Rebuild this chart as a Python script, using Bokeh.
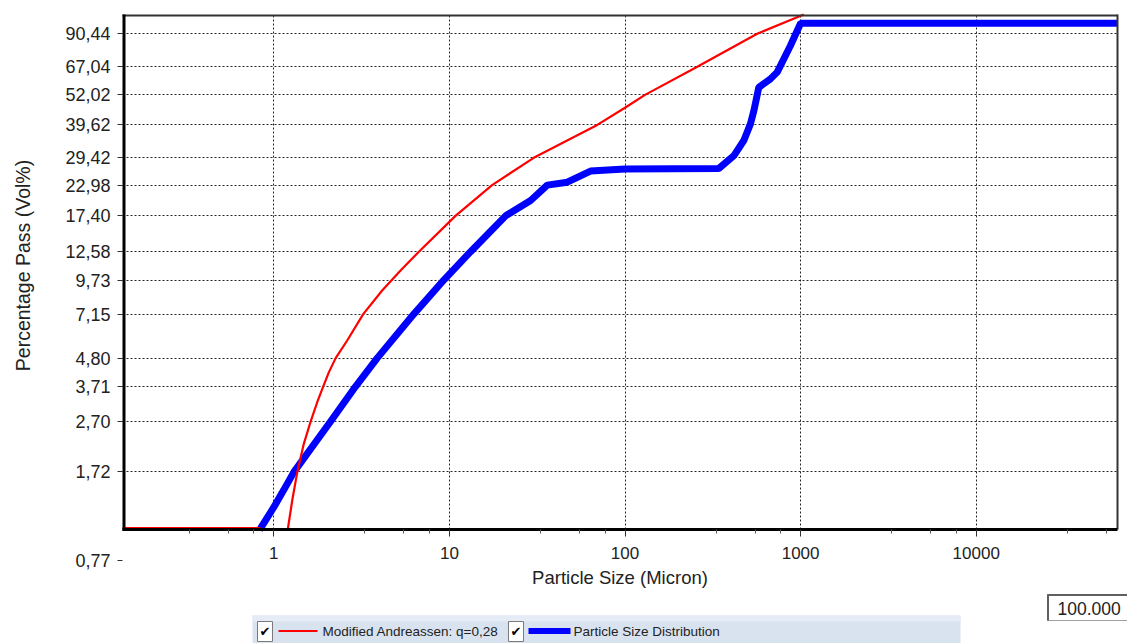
import math
from bokeh.plotting import figure
from bokeh.models import Range1d, FixedTicker, CustomJSTickFormatter, LinearScale
from bokeh.embed import file_html
from bokeh.resources import INLINE
from bokeh.core.properties import value

FONT = "Liberation Sans"
NAN = float("nan")

# ---------------- data ----------------
# Modified Andreassen model curve (q = 0,28)
andreassen_size = [0.1375, 0.84, NAN, 1.20, 1.273, 1.36, 1.482, 1.62, 1.767, 1.91, 2.057, 2.25,
                   2.618, 3.23, 4.14, 5.27, 6.70, 10.83, 17.5, 30.2, 69.5, 100.0, 130.0,
                   258.0, 566.0, 1043.0]
andreassen_pass = [1.03, 1.03, NAN, 1.015, 1.323, 1.71, 2.21, 2.70, 3.22, 3.71, 4.22, 4.80,
                   5.63, 7.15, 8.85, 10.6, 12.58, 17.40, 22.98, 29.42, 39.62, 46.3, 52.02,
                   67.04, 90.44, 107.7]

# Measured particle size distribution
psd_size = [0.83, 1.0, 1.136, 1.30, 2.10, 2.92, 3.88, 6.27, 9.29, 13.2, 20.9, 29.0, 36.1,
            46.9, 63.6, 100.0, 342.0, 417.0, 475.0, 518.0, 542.0, 578.0, 674.0, 736.0,
            876.0, 1000.0, 63800.0]
psd_pass = [1.015, 1.245, 1.45, 1.71, 2.70, 3.71, 4.80, 7.15, 9.73, 12.58, 17.40, 20.0, 22.98,
            23.6, 26.1, 26.6, 26.7, 30.0, 34.4, 40.0, 45.1, 55.7, 60.1, 63.9,
            81.3, 99.5, 99.5]

x_ticks = [1, 10, 100, 1000, 10000]
x_minor_mult = [3.3, 5.5, 7.7]
y_ticks = [0.77, 1.72, 2.70, 3.71, 4.80, 7.15, 9.73, 12.58, 17.40, 22.98, 29.42,
           39.62, 52.02, 67.04, 90.44]
y_labels = ["0,77", "1,72", "2,70", "3,71", "4,80", "7,15", "9,73", "12,58", "17,40",
            "22,98", "29,42", "39,62", "52,02", "67,04", "90,44"]

x_title = "Particle Size (Micron)"
y_title = "Percentage Pass (Vol%)"
legend_labels = ["Modified Andreassen:  q=0,28", "Particle Size Distribution"]
box_value = "100.000"

# chart box (data units) and full canvas extents (data units)
X_START, X_BOX_END = 0.1375, 63780
X_FRAME_START, X_FRAME_END = 0.02777, 72700
Y_BOX_BOT, Y_TOP = 1.015, 107.7
Y_FRAME_BOT, Y_FRAME_TOP = 0.3626, 122.2

W, H = 1127, 643

p = figure(width=W, height=H, x_axis_type="log", y_axis_type="log",
           x_range=Range1d(X_FRAME_START, X_FRAME_END),
           y_range=Range1d(Y_FRAME_BOT, Y_FRAME_TOP),
           output_backend="svg", toolbar_location=None,
           min_border_left=0, min_border_right=0, min_border_top=0, min_border_bottom=0)
p.background_fill_color = "white"
p.border_fill_color = "white"
p.outline_line_color = None

# page-pixel coordinate system for decorations (legend, box frame, titles)
p.extra_x_ranges = {"px": Range1d(0, W)}
p.extra_y_ranges = {"py": Range1d(H, 0)}
p.extra_x_scales = {"px": LinearScale()}
p.extra_y_scales = {"py": LinearScale()}

x_minor = [m * 10 ** k for k in range(-1, 5) for m in x_minor_mult]
p.xaxis.ticker = FixedTicker(ticks=x_ticks, minor_ticks=x_minor)
p.xaxis.formatter = CustomJSTickFormatter(code="return String(Math.round(tick));")
p.xaxis.fixed_location = Y_BOX_BOT
p.xaxis.bounds = (X_START, X_BOX_END)

p.yaxis.ticker = FixedTicker(ticks=y_ticks, minor_ticks=[])
p.yaxis.formatter = CustomJSTickFormatter(args=dict(vals=y_ticks, labs=y_labels), code="""
let b = 0;
for (let i = 0; i < vals.length; i++) {
  if (Math.abs(vals[i] - tick) < Math.abs(vals[b] - tick)) b = i;
}
return labs[b];
""")
p.yaxis.fixed_location = X_START

for ax in (p.xaxis, p.yaxis):
    ax.major_tick_in = 0
    ax.minor_tick_in = 0
    ax.major_tick_line_color = "#333333"
    ax.minor_tick_line_color = "#555555"
    ax.major_label_text_font = FONT
    ax.major_label_text_color = "#222222"
    ax.axis_label_text_font = FONT
    ax.axis_label_text_font_style = "normal"
    ax.axis_label_text_color = "#222222"

p.xaxis.axis_line_width = 3
p.xaxis.axis_line_color = "black"
p.xaxis.major_tick_out = 7
p.xaxis.minor_tick_out = 4
p.xaxis.major_label_text_font_size = "17px"
p.xaxis.major_label_standoff = 10
p.xaxis.axis_label = x_title
p.xaxis.axis_label_text_font_size = "18.5px"
p.xaxis.axis_label_standoff = 5

p.yaxis.axis_line_color = None
p.yaxis.major_tick_out = 5
p.yaxis.minor_tick_line_color = None
p.yaxis.major_label_text_font_size = "18px"
p.yaxis.major_label_standoff = 7

# grid limited to the chart box
p.xgrid.cross_bounds = (Y_BOX_BOT, Y_TOP)
p.ygrid.ticker = FixedTicker(ticks=[t for t in y_ticks if t > Y_BOX_BOT], minor_ticks=[])
p.ygrid.cross_bounds = (X_START, X_BOX_END)
for g in (p.xgrid, p.ygrid):
    g.grid_line_color = "#000000"
    g.grid_line_dash = "2 2"
    g.grid_line_width = 1
    g.grid_line_alpha = 0.85

# data
p.line(psd_size, psd_pass, line_color="#0000ff", line_width=7)
p.line(andreassen_size, andreassen_pass, line_color="#ff0000", line_width=2.2)

px = dict(x_range_name="px", y_range_name="py")

# chart box: top, right, left edges (page pixels)
p.segment(x0=[122, 1117], y0=[15, 14], x1=[1117, 1117], y1=[15, 529], line_color="#333333",
          line_width=2, **px)
p.segment(x0=[123.5], y0=[14], x1=[123.5], y1=[530.5], line_color="black", line_width=3, **px)

# y axis title
p.text(x=[22.5], y=[265], text=[y_title], angle=math.pi / 2, text_align="center",
       text_baseline="middle", text_font=value(FONT), text_font_size="19.5px",
       text_color="#222222", **px)

# legend strip
p.quad(left=[252], right=[960], top=[615], bottom=[H], fill_color="#d9e3f0", line_color=None, **px)
p.quad(left=[252], right=[960], top=[615], bottom=[621], fill_color="#e5ecf6", line_color=None, **px)
p.quad(left=[257, 508], right=[272, 523], top=[621, 621], bottom=[641, 641],
       fill_color="white", line_color="#7a7a7a", line_width=1, **px)
p.text(x=[264.5, 515.5], y=[631, 631], text=["✔", "✔"], text_align="center",
       text_baseline="middle", text_font=value("DejaVu Sans"), text_font_size="13px",
       text_color="black", **px)
p.segment(x0=[278], y0=[630.5], x1=[317], y1=[630.5], line_color="#ff0000", line_width=2, **px)
p.segment(x0=[528], y0=[630.5], x1=[570], y1=[630.5], line_color="#0000ff", line_width=6, **px)
p.text(x=[322, 573], y=[631, 631], text=legend_labels, text_align="left",
       text_baseline="middle", text_font=value(FONT), text_font_size="13.5px",
       text_color="#222222", **px)

# value box
p.quad(left=[1047], right=[1130], top=[594], bottom=[620], fill_color="white",
       line_color="#a0a0a0", line_width=1, **px)
p.segment(x0=[1047, 1047.5], y0=[594.5, 594], x1=[1130, 1047.5], y1=[594.5, 620],
          line_color="#606060", line_width=2, **px)
p.text(x=[1057], y=[608], text=[box_value], text_align="left", text_baseline="middle",
       text_font=value(FONT), text_font_size="17.5px", text_color="#222222", **px)

open("out.html", "w").write(file_html(p, INLINE))
